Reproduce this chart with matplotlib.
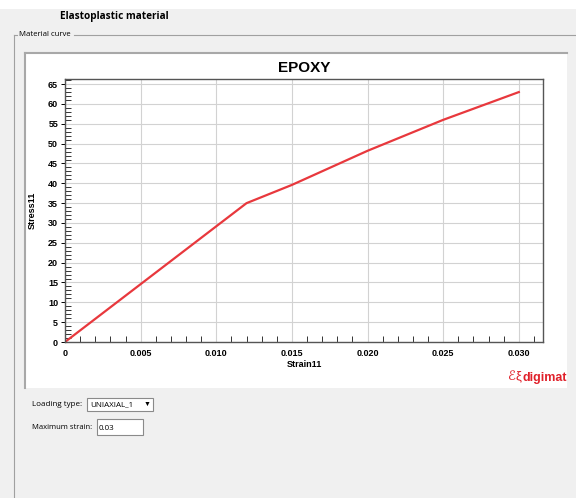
import matplotlib.pyplot as plt
from matplotlib.patches import Rectangle
from matplotlib.lines import Line2D
from matplotlib.ticker import MultipleLocator

# Material curve data
strain = [0.0, 0.012, 0.015, 0.020, 0.025, 0.030]
stress = [0.0, 35.0, 39.6, 48.2, 56.0, 63.0]

x_ticks = [0, 0.005, 0.010, 0.015, 0.020, 0.025, 0.030]
x_tick_labels = ["0", "0.005", "0.010", "0.015", "0.020", "0.025", "0.030"]
y_ticks = list(range(0, 70, 5))

plt.rcParams["font.family"] = ["Liberation Sans", "DejaVu Sans"]

W, H = 576, 498
fig = plt.figure(figsize=(W / 100, H / 100), dpi=100)
fig.patch.set_facecolor("#f0f0f0")
ui_font = ["Open Sans", "DejaVu Sans"]


def fx(px):
    return px / W


def fy(py):
    return 1 - py / H


def fig_line(xs, ys, color, lw):
    fig.lines.append(Line2D(xs, ys, transform=fig.transFigure, color=color, lw=lw, zorder=-1))


def fig_rect(x0, y0, w, h, face, edge="none", lw=0.8):
    fig.patches.append(Rectangle((x0, y0), w, h, transform=fig.transFigure,
                                 facecolor=face, edgecolor=edge, lw=lw, zorder=-2))


# window decoration
fig_rect(0, fy(9), 1, 9 / H, "white")
fig.text(fx(60), fy(17), "Elastoplastic material", fontsize=7.2, fontweight="bold",
         va="center", ha="left", family=ui_font)

# group box
gray = "#a0a0a0"
fig_line([fx(14), fx(14)], [fy(35), 0], gray, 0.8)
fig_line([fx(14), fx(17)], [fy(35), fy(35)], gray, 0.8)
fig_line([fx(74), 1], [fy(35), fy(35)], gray, 0.8)
fig.text(fx(19), fy(35), "Material curve", fontsize=5.6, va="center", ha="left", family=ui_font)

# white chart panel
fig_rect(fx(25), fy(388), (567 - 25) / W, (388 - 53) / H, "white")
fig_line([fx(25), fx(567)], [fy(53), fy(53)], "#a8a8a8", 1.5)
fig_line([fx(25), fx(25)], [fy(53), fy(388)], "#a8a8a8", 1.5)

ax = fig.add_axes([fx(65), fy(342), (543 - 65) / W, (342 - 79) / H])
ax.plot(strain, stress, color="#e8383d", lw=1.6)
ax.set_xlim(0, 0.0316)
ax.set_ylim(0, 66.3)

ax.set_xticks(x_ticks)
ax.set_xticklabels(x_tick_labels)
ax.set_yticks(y_ticks)
ax.xaxis.set_minor_locator(MultipleLocator(0.001))
ax.yaxis.set_minor_locator(MultipleLocator(1))
ax.tick_params(axis="x", which="major", length=0, pad=5, labelsize=6.5)
ax.tick_params(axis="x", which="minor", direction="in", length=4, width=0.7, color="#333333")
ax.tick_params(axis="y", which="major", direction="out", length=3, width=0.7, pad=2, labelsize=6.5)
ax.tick_params(axis="y", which="minor", direction="in", length=4, width=0.7, color="#333333")
for lab in ax.get_xticklabels() + ax.get_yticklabels():
    lab.set_fontweight("bold")

ax.grid(True, which="major", color="#d2d2d2", lw=0.8)
for s in ax.spines.values():
    s.set_color("#555555")
    s.set_linewidth(1.0)

ax.set_xlabel("Strain11", fontsize=6.5, fontweight="bold", labelpad=1.5)
ax.set_ylabel("Stress11", fontsize=6.5, fontweight="bold", labelpad=8)
ax.set_title("EPOXY", fontsize=11, fontweight="bold", pad=5)

# digimat logo
fig.text(fx(567), fy(378), "digimat", fontsize=9, fontweight="bold", color="#e0202a",
         ha="right", va="center")
fig.text(fx(522), fy(377), "\u2130\u03be", fontsize=9.5, color="#e0202a",
         ha="right", va="center")

# controls below chart
fig.text(fx(32), fy(404), "Loading type:", fontsize=5.8, va="center", ha="left", family=ui_font)
fig_rect(fx(87), fy(411), 66 / W, 13 / H, "white", "#8a8a8a")
fig.text(fx(90), fy(404.5), "UNIAXIAL_1", fontsize=5.8, va="center", ha="left", family=ui_font)
fig.text(fx(147), fy(404), "\u25bc", fontsize=5, va="center", ha="center")

fig.text(fx(32), fy(427), "Maximum strain:", fontsize=5.5, va="center", ha="left", family=ui_font)
fig_rect(fx(97), fy(435), 46 / W, 16 / H, "white", "#8a8a8a")
fig.text(fx(99), fy(428), "0.03", fontsize=5.8, va="center", ha="left", family=ui_font)

fig.savefig("out.png", dpi=100, facecolor=fig.get_facecolor())
